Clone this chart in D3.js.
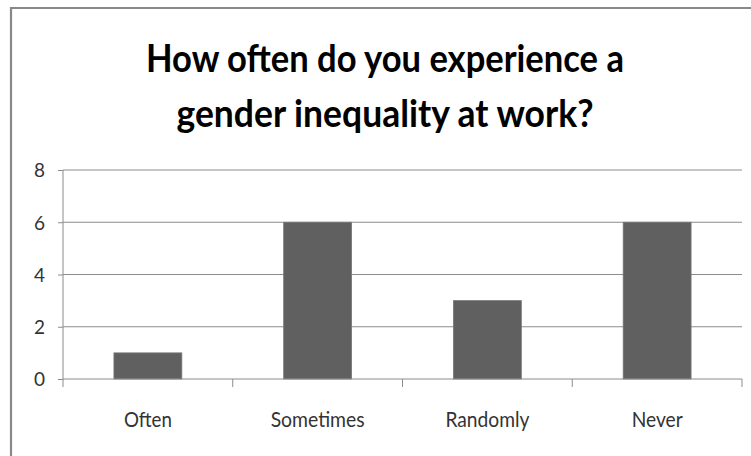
<!DOCTYPE html>
<html><head><meta charset="utf-8">
<script src="https://cdn.jsdelivr.net/npm/d3@7/dist/d3.min.js"></script>
<style>html,body{margin:0;padding:0;background:#fff;}svg{display:block;}</style>
</head><body>
<svg id="chart" width="751" height="456"></svg>
<script>
const categories = ["Often", "Sometimes", "Randomly", "Never"];
const values = [1, 6, 3, 6];
const yTicks = [0, 2, 4, 6, 8];
const titleLines = ["How often do you experience a", "gender inequality at work?"];

const svg = d3.select("#chart");
const W = 751, H = 456;
const font = "Lato, 'Open Sans', sans-serif";
const m = {left: 63, right: 9, top: 170, bottom: 77};

// frame (top and left edges visible)
svg.append("line").attr("x1", 11).attr("x2", W).attr("y1", 8).attr("y2", 8)
  .attr("stroke", "#888").attr("stroke-width", 2.2);
svg.append("line").attr("x1", 11).attr("x2", 11).attr("y1", 7).attr("y2", H)
  .attr("stroke", "#888").attr("stroke-width", 2.2);

const x = d3.scaleBand().domain(categories).range([m.left, W - m.right]).padding(0);
const y = d3.scaleLinear().domain([0, 8]).range([H - m.bottom, m.top]);

// gridlines
svg.append("g").selectAll("line").data(yTicks.filter(d => d > 0)).join("line")
  .attr("x1", m.left).attr("x2", W - m.right)
  .attr("y1", d => y(d)).attr("y2", d => y(d))
  .attr("stroke", "#8c8c8c").attr("stroke-width", 1);

// bars
svg.append("g").selectAll("rect").data(values).join("rect")
  .attr("x", (d, i) => x(categories[i]) + x.bandwidth() * 0.3)
  .attr("width", x.bandwidth() * 0.4)
  .attr("y", d => y(d))
  .attr("height", d => y(0) - y(d))
  .attr("fill", "#606060").attr("stroke", "#777").attr("stroke-width", 0.8);

// y axis
const yAxis = d3.axisLeft(y).tickValues(yTicks).tickSize(5).tickPadding(13).tickFormat(d3.format("d"));
const gy = svg.append("g").attr("transform", `translate(${m.left},0)`).call(yAxis);
gy.select(".domain").remove();
gy.append("line").attr("x1", 0).attr("x2", 0).attr("y1", y(8)).attr("y2", y(0) + 8)
  .attr("stroke", "#8c8c8c");
gy.selectAll(".tick line").attr("stroke", "#8c8c8c");
gy.selectAll(".tick text").attr("font-family", font).attr("font-size", 19).attr("fill", "#333")
  .attr("dy", "0.36em");

// x axis
const gx = svg.append("g").attr("transform", `translate(0,${y(0)})`);
gx.append("line").attr("x1", m.left).attr("x2", W - m.right).attr("y1", 0).attr("y2", 0).attr("stroke", "#8c8c8c");
gx.selectAll("line.tk").data(categories).join("line").attr("class", "tk")
  .attr("x1", d => x(d) + x.bandwidth()).attr("x2", d => x(d) + x.bandwidth())
  .attr("y1", 0).attr("y2", 8).attr("stroke", "#8c8c8c");
const labelW = {"Often": 48, "Sometimes": 94, "Randomly": 84, "Never": 51};
gx.selectAll("text").data(categories).join("text")
  .attr("x", d => x(d) + x.bandwidth() / 2)
  .attr("y", 48)
  .attr("text-anchor", "middle")
  .attr("font-family", font).attr("font-size", 22).attr("fill", "#333")
  .attr("textLength", d => labelW[d]).attr("lengthAdjust", "spacingAndGlyphs")
  .text(d => d);

// title
const titleW = [478, 417];
svg.append("g").selectAll("text").data(titleLines).join("text")
  .attr("x", 385).attr("y", (d, i) => 72 + i * 55)
  .attr("text-anchor", "middle")
  .attr("font-family", font).attr("font-weight", "bold").attr("font-size", 38).attr("fill", "#000")
  .attr("textLength", (d, i) => titleW[i]).attr("lengthAdjust", "spacingAndGlyphs")
  .text(d => d);
</script>
</body></html>
